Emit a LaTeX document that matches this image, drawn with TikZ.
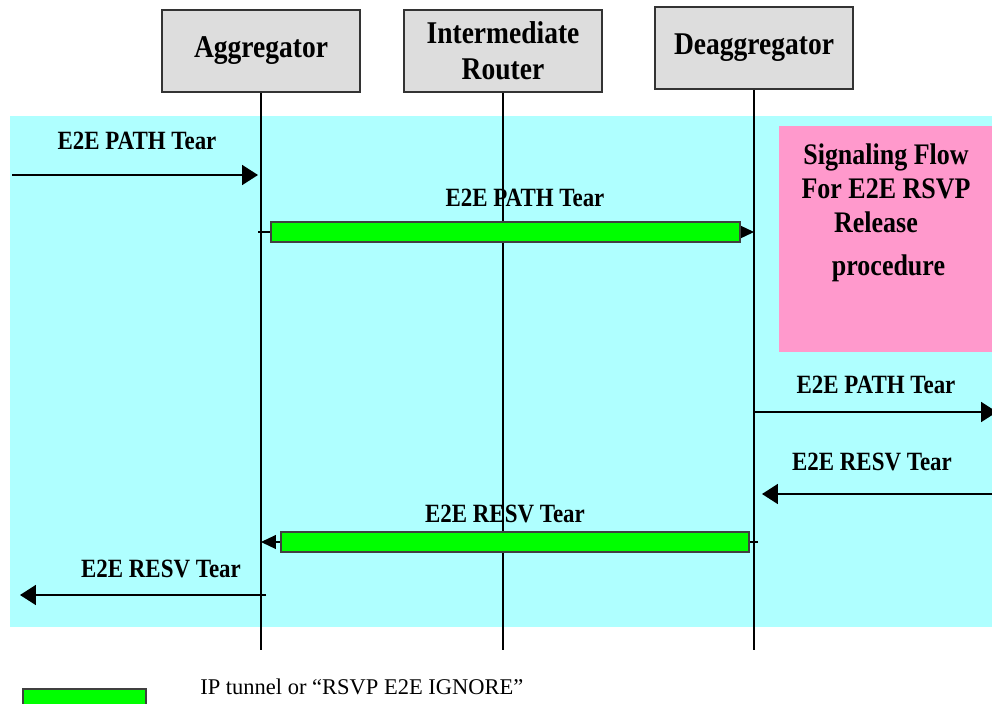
\documentclass[tikz,border=0pt]{standalone}
\usepackage{fontspec}
\setmainfont{Liberation Serif}[FakeStretch=0.87]
\newfontfamily\legendfont{Liberation Serif}
\usetikzlibrary{arrows.meta,positioning}

\definecolor{bgcyan}{RGB}{175,255,255}
\definecolor{flowpink}{RGB}{255,153,204}
\definecolor{boxgray}{RGB}{221,221,221}
\definecolor{tunnelgreen}{RGB}{0,255,0}

\tikzset{
  entity/.style={draw=black!80, line width=1.1pt, fill=boxgray, minimum width=3.96cm,
    minimum height=1.64cm, align=center, font=\fontsize{18}{20.5}\selectfont\bfseries},
  life/.style={line width=0.8pt},
  msg/.style={line width=1.1pt, -{Triangle[length=0.32cm,width=0.4cm]}},
  tunmsg/.style={line width=0.6pt, -{Triangle[length=0.3cm,width=0.28cm]}},
  tunnel/.style={draw=black!75, line width=0.9pt, fill=tunnelgreen, minimum height=0.4cm, inner sep=0pt},
  lbl/.style={font=\fontsize{15}{16}\selectfont\bfseries, anchor=base, inner sep=0pt},
  flow/.style={fill=flowpink, minimum width=4.26cm, minimum height=4.52cm, inner sep=0pt},
  flowtxt/.style={align=center, inner sep=0pt, font=\fontsize{17}{19.5}\selectfont\bfseries}
}

\begin{document}
\begin{tikzpicture}[x=0.02cm, y=-0.02cm]
    \useasboundingbox (0,0) rectangle (992,704);
    % background
    \fill[bgcyan] (10,116) rectangle (992,627);
    \node[flow] (flow) at (885.5,239) {};
    \node[flowtxt, anchor=north] (flowtext) at (886,143)
        {Signaling Flow\\For E2E RSVP\\Release\rule{0.4cm}{0pt}\\[5pt]\rule{0.1cm}{0pt}procedure};

    % Entities and lifelines
    \node[entity] (agg) at (261,51) {Aggregator};
    \node[entity] (inter) at (503,51) {Intermediate\\Router};
    \node[entity] (deagg) at (754,48) {Deaggregator};
    \coordinate (aggEnd) at (261,650);
    \coordinate (interEnd) at (503,650);
    \coordinate (deaggEnd) at (754,650);
    \draw[life] (agg.south) -- (aggEnd);
    \draw[life] (inter.south) -- (interEnd);
    \draw[life] (deagg.south) -- (deaggEnd);

    % PATH Tear coming in
    \coordinate (in1) at (12,175);
    \coordinate (a1) at (261,175);
    \draw[msg, shorten >=0.06cm] (in1) -- (a1);
    \node[lbl] (l1) at (137,149) {E2E PATH Tear};

    % PATH Tear through the tunnel
    \coordinate (a2) at (258,232);
    \coordinate (d2) at (754,232);
    \draw[tunmsg] (a2) -- (d2);
    \node[tunnel, minimum width=9.38cm] (t1) at (505.5,232) {};
    \node[lbl] (l2) at (525,206) {E2E PATH Tear};

    % PATH Tear going out
    \coordinate (d3) at (754,412);
    \coordinate (out3) at (997,412);
    \draw[msg] (d3) -- (out3);
    \node[lbl] (l3) at (876,393) {E2E PATH Tear};

    % RESV Tear coming back
    \coordinate (in4) at (992,494);
    \coordinate (d4) at (754,494);
    \draw[msg, shorten >=0.16cm] (in4) -- (d4);
    \node[lbl] (l4) at (872,470) {E2E RESV Tear};

    % RESV Tear through the tunnel
    \coordinate (d5) at (758,542);
    \coordinate (a5) at (261,542);
    \draw[tunmsg] (d5) -- (a5);
    \node[tunnel, minimum width=9.36cm] (t2) at (515,542) {};
    \node[lbl] (l5) at (505,522) {E2E RESV Tear};

    % RESV Tear going out
    \coordinate (a6) at (266,595);
    \coordinate (out6) at (20,595);
    \draw[msg] (a6) -- (out6);
    \node[lbl] (l6) at (161,577) {E2E RESV Tear};

    % Legend
    \node[tunnel, minimum width=2.46cm, anchor=north west] (legbar) at (22,688) {};
    \node[anchor=base west, inner sep=0pt, font=\legendfont\fontsize{12.8}{14}\selectfont] (legtext)
        at (200,694) {IP tunnel or “RSVP E2E IGNORE”};
\end{tikzpicture}
\end{document}
